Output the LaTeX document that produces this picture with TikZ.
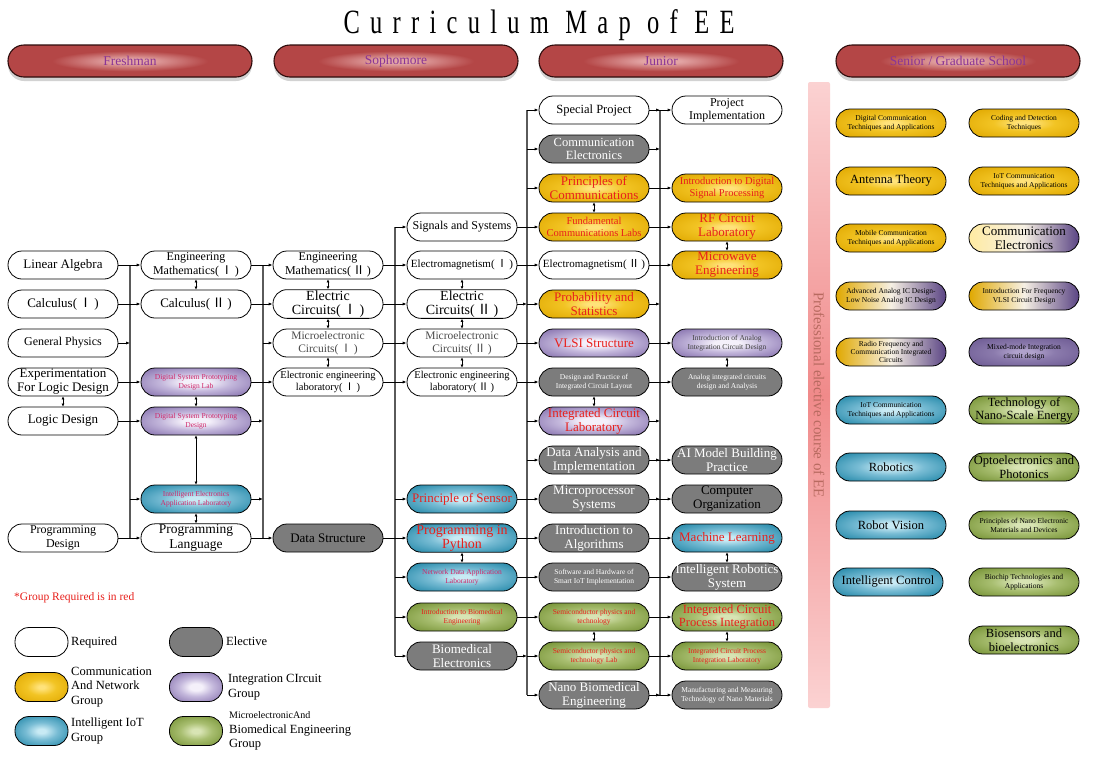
\documentclass[tikz,border=0pt]{standalone}
\usepackage{fontspec}
\usepackage{graphicx}
\setmainfont{Liberation Serif}
\newfontfamily\cjk{Noto Sans CJK SC}
\newfontfamily\titlefont[LetterSpace=42]{Liberation Serif}
\usetikzlibrary{arrows.meta,shadows}
\definecolor{goldD}{HTML}{A67A00}
\definecolor{goldM}{HTML}{E0A800}
\definecolor{goldN}{HTML}{F2C424}
\definecolor{goldL}{HTML}{FFE27A}
\definecolor{purD}{HTML}{5A4484}
\definecolor{purM}{HTML}{8C78B2}
\definecolor{purN}{HTML}{C4B8DC}
\definecolor{purL}{HTML}{F4F0FA}
\definecolor{pur2D}{HTML}{54407E}
\definecolor{pur2L}{HTML}{B0A2CC}
\definecolor{bluD}{HTML}{19637F}
\definecolor{bluM}{HTML}{2A8CAC}
\definecolor{bluN}{HTML}{78BCD4}
\definecolor{bluL}{HTML}{C8EAF4}
\definecolor{grnD}{HTML}{52701C}
\definecolor{grnM}{HTML}{7A963A}
\definecolor{grnN}{HTML}{A8BE70}
\definecolor{grnL}{HTML}{D8E4B4}
\definecolor{eleG}{HTML}{7C7C7C}
\definecolor{redT}{HTML}{E8201C}
\definecolor{pinkT}{HTML}{D0286A}
\definecolor{hdrD}{HTML}{5E2020}
\definecolor{hdrM}{HTML}{B44646}
\definecolor{hdrL}{HTML}{E2A4A4}
\definecolor{hdrB}{HTML}{2E0C0C}
\definecolor{hdrT}{HTML}{8A3596}
\definecolor{busC}{HTML}{5A5A5A}
\definecolor{barL}{HTML}{FBD2D2}
\definecolor{barD}{HTML}{F08A8A}
\definecolor{barT}{HTML}{B86A60}
\definecolor{mixM}{HTML}{F6F0E4}
\pgfdeclareradialshading{goldsh}{\pgfpoint{0bp}{0bp}}{color(0bp)=(goldL); color(3bp)=(goldL); color(14bp)=(goldN); color(34bp)=(goldM); color(50bp)=(goldD)}
\pgfdeclareradialshading{pursh}{\pgfpoint{0bp}{0bp}}{color(0bp)=(purL); color(6bp)=(purL); color(16bp)=(purN); color(32bp)=(purM); color(50bp)=(purD)}
\pgfdeclareradialshading{pur2sh}{\pgfpoint{0bp}{0bp}}{color(0bp)=(pur2L); color(4bp)=(pur2L); color(14bp)=(pur2L!60!pur2D); color(50bp)=(pur2D)}
\pgfdeclareradialshading{blush}{\pgfpoint{0bp}{0bp}}{color(0bp)=(bluL); color(4bp)=(bluL); color(15bp)=(bluN); color(32bp)=(bluM); color(50bp)=(bluD)}
\pgfdeclareradialshading{grnsh}{\pgfpoint{0bp}{0bp}}{color(0bp)=(grnL); color(4bp)=(grnL); color(15bp)=(grnN); color(32bp)=(grnM); color(50bp)=(grnD)}
\pgfdeclareradialshading{hdrsh}{\pgfpoint{0bp}{0bp}}{color(0bp)=(hdrL); color(4bp)=(hdrL); color(16bp)=(hdrM); color(36bp)=(hdrM); color(50bp)=(hdrD)}
\newcommand\nI{(\,{\cjk Ⅰ}\,)}
\newcommand\nII{(\,{\cjk Ⅱ}\,)}
\begin{document}
\begin{tikzpicture}[x=1pt,y=-1pt,
 course/.style={rectangle, rounded corners=14pt, draw=black, line width=0.8pt, minimum width=110pt, minimum height=28pt, inner sep=1pt, align=center, text=black, font=\fontsize{12.5}{13.5}\selectfont},
 req/.style={course, fill=white},
 ele/.style={course, fill=eleG, text=white},
 gld/.style={course, shading=goldsh, shade, text=redT},
 pur/.style={course, shading=pursh, shade, text=redT},
 purb/.style={course, shading=pur2sh, shade, text=black},
 blu/.style={course, shading=blush, shade, text=redT},
 grn/.style={course, shading=grnsh, shade, text=redT},
 mix/.style={course, left color=goldM, right color=purD, middle color=mixM, text=black},
 mixb/.style={course, left color=goldL!70!white, right color=purD, middle color=mixM, text=black},
 sm/.style={font=\fontsize{7.5}{8.8}\selectfont},
 md/.style={font=\fontsize{10.5}{12}\selectfont},
 mdd/.style={font=\fontsize{11.5}{13}\selectfont},
 lg/.style={font=\fontsize{13}{14}\selectfont},
 hdr/.style={rectangle, rounded corners=16pt, draw=hdrB, line width=1.1pt, minimum width=244pt, minimum height=32pt, shading=hdrsh, shade, text=hdrT, font=\fontsize{13.5}{15}\selectfont, drop shadow={shadow xshift=0pt, shadow yshift=-4pt, opacity=0.35}},
 arr/.style={-{Latex[length=4pt,width=3.2pt]}, line width=0.8pt, black},
 dbl/.style={{Latex[length=3pt,width=3pt]}-{Latex[length=3pt,width=3pt]}, line width=0.8pt, black},
 bus/.style={line width=1.3pt, busC},
 legt/.style={anchor=west, align=left, inner sep=0pt, font=\fontsize{12.5}{14.5}\selectfont}
]
\useasboundingbox (0,0) rectangle (1093,758);
\fill[white] (0,0) rectangle (1093,758);

% title
\node (title) at (539,25) {\titlefont\fontsize{34}{36}\selectfont\scalebox{0.72}[1]{Curriculum Map of EE}};

% headers
\node[hdr] (hd1) at (130,61) {Freshman};
\node[hdr] (hd2) at (396,61) {Sophomore};
\node[hdr] (hd3) at (661,61) {Junior};
\node[hdr] (hd4) at (958,61) {Senior / Graduate School};

% pink bar
\shade[top color=barL, bottom color=barL, middle color=barD, rounded corners=2pt] (808,82) rectangle (830,708);
\node[rotate=-90, text=barT, font=\fontsize{15}{15}\selectfont] (bartxt) at (819,395) {Professional elective course of EE};

% buses
\coordinate (busA) at (130,265); \coordinate (busAe) at (130,538);
\coordinate (busB) at (263,265); \coordinate (busBe) at (263,538);
\coordinate (busD) at (395,227); \coordinate (busDe) at (395,656);
\coordinate (busE) at (527,110); \coordinate (busEe) at (527,695);
\coordinate (busF) at (660,110); \coordinate (busFe) at (660,695);
\draw[bus] (busA) -- (busAe);
\draw[bus] (busB) -- (busBe);
\draw[bus] (busD) -- (busDe);
\draw[bus] (busE) -- (busEe);
\draw[bus] (busF) -- (busFe);

% Column A
\node[req, lg] (a4) at (63,265) {Linear Algebra};
\node[req, lg] (a5) at (63,304) {Calculus\nI};
\node[req, font=\fontsize{12}{13}\selectfont] (a6) at (63,343) {General Physics};
\node[req, lg] (a7) at (63,382) {Experimentation\\For Logic Design};
\node[req, lg] (a8) at (63,421) {Logic Design};
\node[req, font=\fontsize{12}{13.5}\selectfont] (a11) at (63,538) {Programming\\Design};

% Column B
\node[req, font=\fontsize{12}{13.5}\selectfont] (b4) at (196,265) {Engineering\\Mathematics\nI};
\node[req, lg] (b5) at (196,304) {Calculus\nII};
\node[pur, sm, text=pinkT] (b7) at (196,382) {Digital System Prototyping\\Design Lab};
\node[pur, sm, text=pinkT] (b8) at (196,421) {Digital System Prototyping\\Design};
\node[blu, sm, text=pinkT] (b10) at (196,499) {Intelligent Electronics\\Application Laboratory};
\node[req, font=\fontsize{13.5}{14.5}\selectfont] (b11) at (196,538) {Programming\\Language};

% Column C
\node[req, font=\fontsize{12}{13.5}\selectfont] (c4) at (328,265) {Engineering\\Mathematics\nII};
\node[req, font=\fontsize{14}{14}\selectfont] (c5) at (328,304) {Electric\\Circuits\nI};
\node[req, mdd, text=black!70] (c6) at (328,343) {Microelectronic\\Circuits\nI};
\node[req, md] (c7) at (328,382) {Electronic engineering\\laboratory\nI};
\node[ele, lg, text=black] (c11) at (328,538) {Data Structure};

% Column D
\node[req, font=\fontsize{12}{13}\selectfont] (d3) at (462,227) {Signals and Systems};
\node[req, font=\fontsize{11}{13}\selectfont] (d4) at (462,265) {Electromagnetism\nI};
\node[req, font=\fontsize{14}{14}\selectfont] (d5) at (462,304) {Electric\\Circuits\nII};
\node[req, mdd, text=black!70] (d6) at (462,343) {Microelectronic\\Circuits\nII};
\node[req, md] (d7) at (462,382) {Electronic engineering\\laboratory\nII};
\node[blu, lg] (d10) at (462,499) {Principle of Sensor};
\node[blu, font=\fontsize{14}{14}\selectfont] (d11) at (462,538) {Programming in\\Python};
\node[blu, sm, text=pinkT] (d12) at (462,577) {Network Data Application\\Laboratory};
\node[grn, sm] (d13) at (462,617) {Introduction to Biomedical\\Engineering};
\node[ele, lg] (d14) at (462,656) {Biomedical\\Electronics};

% Column E
\node[req] (e0) at (594,110) {Special Project};
\node[ele] (e1) at (594,149) {Communication\\Electronics};
\node[gld, lg] (e2) at (594,188) {Principles of\\Communications};
\node[gld, md] (e3) at (594,227) {Fundamental\\Communications Labs};
\node[req, font=\fontsize{11}{13}\selectfont] (e4) at (594,265) {Electromagnetism\nII};
\node[gld, lg] (e5) at (594,304) {Probability and\\Statistics};
\node[pur, lg] (e6) at (594,343) {VLSI Structure};
\node[ele, sm] (e7) at (594,382) {Design and Practice of\\Integrated Circuit Layout};
\node[pur, lg] (e8) at (594,421) {Integrated Circuit\\Laboratory};
\node[ele, lg] (e9) at (594,460) {Data Analysis and\\Implementation};
\node[ele, lg] (e10) at (594,499) {Microprocessor\\Systems};
\node[ele, lg] (e11) at (594,538) {Introduction to\\Algorithms};
\node[ele, sm] (e12) at (594,577) {Software and Hardware of\\Smart IoT Implementation};
\node[grn, sm] (e13) at (594,617) {Semiconductor physics and\\technology};
\node[grn, sm] (e14) at (594,656) {Semiconductor physics and\\technology Lab};
\node[ele, lg] (e15) at (594,695) {Nano Biomedical\\Engineering};

% Column F
\node[req, font=\fontsize{12}{13}\selectfont] (f0) at (727,110) {Project\\Implementation};
\node[gld, md] (f2) at (727,188) {Introduction to Digital\\Signal Processing};
\node[gld, lg] (f3) at (727,227) {RF Circuit\\Laboratory};
\node[gld, lg] (f4) at (727,265) {Microwave\\Engineering};
\node[pur, sm, text=black!75] (f6) at (727,343) {Introduction of Analog\\Integration Circuit Design};
\node[ele, sm] (f7) at (727,382) {Analog integrated circuits\\design and Analysis};
\node[ele, lg] (f9) at (727,460) {AI Model Building\\Practice};
\node[ele, lg, text=black] (f10) at (727,499) {Computer\\Organization};
\node[blu, lg] (f11) at (727,538) {Machine Learning};
\node[ele, lg] (f12) at (727,577) {Intelligent Robotics\\System};
\node[grn, font=\fontsize{12.5}{13.5}\selectfont] (f13) at (727,617) {Integrated Circuit\\Process Integration};
\node[grn, sm] (f14) at (727,656) {Integrated Circuit Process\\Integration Laboratory};
\node[ele, sm] (f15) at (727,695) {Manufacturing and Measuring\\Technology of Nano Materials};

% Column G
\node[gld, sm, text=black] (g1) at (891,123) {Digital Communication\\Techniques and Applications};
\node[gld, font=\fontsize{12.5}{14}\selectfont, text=black] (g2) at (891,181) {Antenna Theory};
\node[gld, sm, text=black] (g3) at (891,238) {Mobile Communication\\Techniques and Applications};
\node[mix, sm] (g4) at (891,296) {Advanced Analog IC Design-\\Low Noise Analog IC Design};
\node[mix, sm, font=\fontsize{7.5}{8.3}\selectfont] (g5) at (891,352) {Radio Frequency and\\Communication Integrated\\Circuits};
\node[blu, sm, text=black] (g6) at (891,410) {IoT Communication\\Techniques and Applications};
\node[blu, font=\fontsize{12.5}{14}\selectfont, text=black] (g7) at (891,467) {Robotics};
\node[blu, font=\fontsize{12.5}{14}\selectfont, text=black] (g8) at (891,525) {Robot Vision};
\node[blu, font=\fontsize{12.5}{14}\selectfont, text=black] (g9) at (888,582) {Intelligent Control};

% Column H
\node[gld, sm, text=black] (h1) at (1024,123) {Coding and Detection\\Techniques};
\node[gld, sm, text=black] (h2) at (1024,181) {IoT Communication\\Techniques and Applications};
\node[mixb, font=\fontsize{13}{14}\selectfont] (h3) at (1024,238) {Communication\\Electronics};
\node[mix, sm] (h4) at (1024,296) {Introduction For Frequency\\VLSI Circuit Design};
\node[purb, sm] (h5) at (1024,352) {Mixed-mode Integration\\circuit design};
\node[grn, font=\fontsize{12.5}{13.5}\selectfont, text=black] (h6) at (1024,410) {Technology of\\Nano-Scale Energy};
\node[grn, font=\fontsize{12.5}{13.5}\selectfont, text=black] (h7) at (1024,467) {Optoelectronics and\\Photonics};
\node[grn, sm, text=black] (h8) at (1024,525) {Principles of Nano Electronic\\Materials and Devices};
\node[grn, sm, text=black] (h9) at (1024,582) {Biochip Technologies and\\Applications};
\node[grn, font=\fontsize{12.5}{13.5}\selectfont, text=black] (h10) at (1024,640) {Biosensors and\\bioelectronics};

% A -> B
\draw[arr] (a4) -- (b4);
\draw[arr] (a5) -- (b5);
\draw[arr] (a6.east) -- (a6.east -| busA);
\draw[arr] (a7) -- (b7);
\draw[arr] (a8) -- (b8);
\draw[arr] (b10.west -| busA) -- (b10.west);
\draw[arr] (a11) -- (b11);
% B -> C
\draw[arr] (b4) -- (c4);
\draw[arr] (b5) -- (c5);
\draw[arr] (c6.west -| busB) -- (c6.west);
\draw[arr] (b7) -- (c7);
\draw[arr] (b8.east) -- (b8.east -| busB);
\draw[arr] (b10.east) -- (b10.east -| busB);
\draw[arr] (b11) -- (c11);
% C -> D
\draw[arr] (c4) -- (d4);
\draw[arr] (c5) -- (d5);
\draw[arr] (c6) -- (d6);
\draw[arr] (c7) -- (d7);
\draw[arr] (c11) -- (d11);
\draw[arr] (d3.west -| busD) -- (d3.west);
\draw[arr] (d10.west -| busD) -- (d10.west);
\draw[arr] (d12.west -| busD) -- (d12.west);
\draw[arr] (d13.west -| busD) -- (d13.west);
\draw[arr] (d14.west -| busD) -- (d14.west);
% D -> E
\draw[arr] (d3) -- (e3);
\draw[arr] (d4) -- (e4);
\draw[arr] (d5.east) -- (d5.east -| busE);
\draw[arr] (d6) -- (e6);
\draw[arr] (d7) -- (e7);
\draw[arr] (d10) -- (e10);
\draw[arr] (d11) -- (e11);
\draw[arr] (d12) -- (e12);
\draw[arr] (d13) -- (e13);
\draw[arr] (d14.east) -- (d14.east -| busE);
\foreach \n in {e0,e1,e2,e5,e8,e9,e14,e15}{
  \draw[arr] (\n.west -| busE) -- (\n.west);
}
% E -> F
\draw[arr] (e0) -- (f0);
\draw[arr] (e2) -- (f2);
\draw[arr] (e3) -- (f3);
\draw[arr] (e4) -- (f4);
\draw[arr] (e6) -- (f6);
\draw[arr] (e7) -- (f7);
\draw[arr] (e9) -- (f9);
\draw[arr] (e10) -- (f10);
\draw[arr] (e11) -- (f11);
\draw[arr] (e12) -- (f12);
\draw[arr] (e13) -- (f13);
\draw[arr] (e14) -- (f14);
\draw[arr] (e15) -- (f15);
\foreach \n in {e0,e1,e5,e8,e9,e10,e15}{
  \draw[arr] (\n.east) -- (\n.east -| busF);
}

% vertical double arrows
\draw[dbl] (a7.south) -- (a8.north);
\draw[dbl] (b4.south) -- (b5.north);
\draw[dbl] (b7.south) -- (b8.north);
\draw[dbl] (b8.south) -- (b10.north);
\draw[dbl] (b10.south) -- (b11.north);
\draw[dbl] (c4.south) -- (c5.north);
\draw[dbl] (c5.south) -- (c6.north);
\draw[dbl] (c6.south) -- (c7.north);
\draw[dbl] (d4.south) -- (d5.north);
\draw[dbl] (d5.south) -- (d6.north);
\draw[dbl] (d6.south) -- (d7.north);
\draw[dbl] (d11.south) -- (d12.north);
\draw[dbl] (e2.south) -- (e3.north);
\draw[dbl] (e7.south) -- (e8.north);
\draw[dbl] (e13.south) -- (e14.north);
\draw[dbl] (f3.south) -- (f4.north);
\draw[dbl] (f6.south) -- (f7.north);
\draw[dbl] (f11.south) -- (f12.north);
\draw[dbl] (f13.south) -- (f14.north);

% legend
\node[anchor=west, inner sep=0pt, text=redT, font=\fontsize{11.5}{13}\selectfont] (note) at (14,598) {*Group Required is in red};
\node[req, minimum width=53pt, minimum height=29pt] (l1) at (41.5,642) {};
\node[ele, minimum width=53pt, minimum height=29pt] (l2) at (196,642) {};
\node[gld, minimum width=53pt, minimum height=29pt] (l3) at (41.5,687) {};
\node[pur, minimum width=53pt, minimum height=29pt] (l4) at (196,687) {};
\node[blu, minimum width=53pt, minimum height=29pt] (l5) at (41.5,731) {};
\node[grn, minimum width=53pt, minimum height=29pt] (l6) at (196,731) {};
\node[legt] (lt1) at (71,642) {Required};
\node[legt] (lt2) at (226,641) {Elective};
\node[legt] (lt3) at (71,687) {Communication\\And Network\\Group};
\node[legt] (lt4) at (228,687) {Integration CIrcuit\\Group};
\node[legt] (lt5) at (71,731) {Intelligent IoT\\Group};
\node[legt] (lt6) at (229,731) {{\fontsize{10}{12}\selectfont MicroelectronicAnd}\\Biomedical Engineering\\Group};
\end{tikzpicture}
\end{document}
